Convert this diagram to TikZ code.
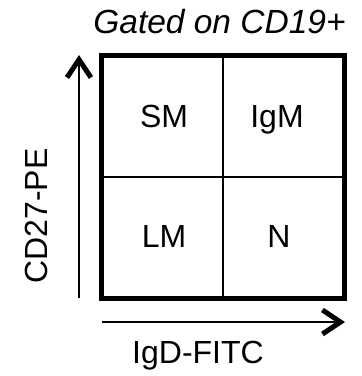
\documentclass[tikz,border=0pt]{standalone}
\usepackage{fontspec}
\setmainfont{Liberation Sans}
\usetikzlibrary{arrows.meta}
\begin{document}
\begin{tikzpicture}[x=1pt,y=-1pt,
  lbl/.style={font=\fontsize{32}{36}\selectfont, inner sep=0pt, anchor=base},
  axis/.style={line width=2.2pt, -{Straight Barb[length=18pt,width=24pt,line width=5pt]}},
  frame/.style={line width=5pt},
  divider/.style={line width=2pt}]
\useasboundingbox (0,0) rectangle (362,376);
\coordinate (bl) at (101.5,298);
\coordinate (tr) at (344.5,55);
\coordinate (mt) at (223,55);
\coordinate (mb) at (223,298);
\coordinate (ml) at (101.5,177);
\coordinate (mr) at (344.5,177);
\draw[divider] (mt) -- (mb);
\draw[divider] (ml) -- (mr);
\draw[frame] (bl) rectangle (tr);
\coordinate (ya) at (79,298);
\coordinate (yb) at (79,55);
\coordinate (xa) at (102,322);
\coordinate (xb) at (345,322);
\draw[axis] (ya) -- (yb);
\draw[axis] (xa) -- (xb);
\node[lbl] (sm) at (164,127) {SM};
\node[lbl] (igm) at (277,127) {IgM};
\node[lbl] (lm) at (164,247) {LM};
\node[lbl] (n) at (279,247) {N};
\node[lbl, font=\fontsize{33.5}{38}\selectfont\itshape] (title) at (219.5,33) {Gated on CD19+};
\node[lbl, rotate=90] (ylab) at (47,216) {CD27-PE};
\node[lbl] (xlab) at (198,363) {IgD-FITC};
\end{tikzpicture}
\end{document}
